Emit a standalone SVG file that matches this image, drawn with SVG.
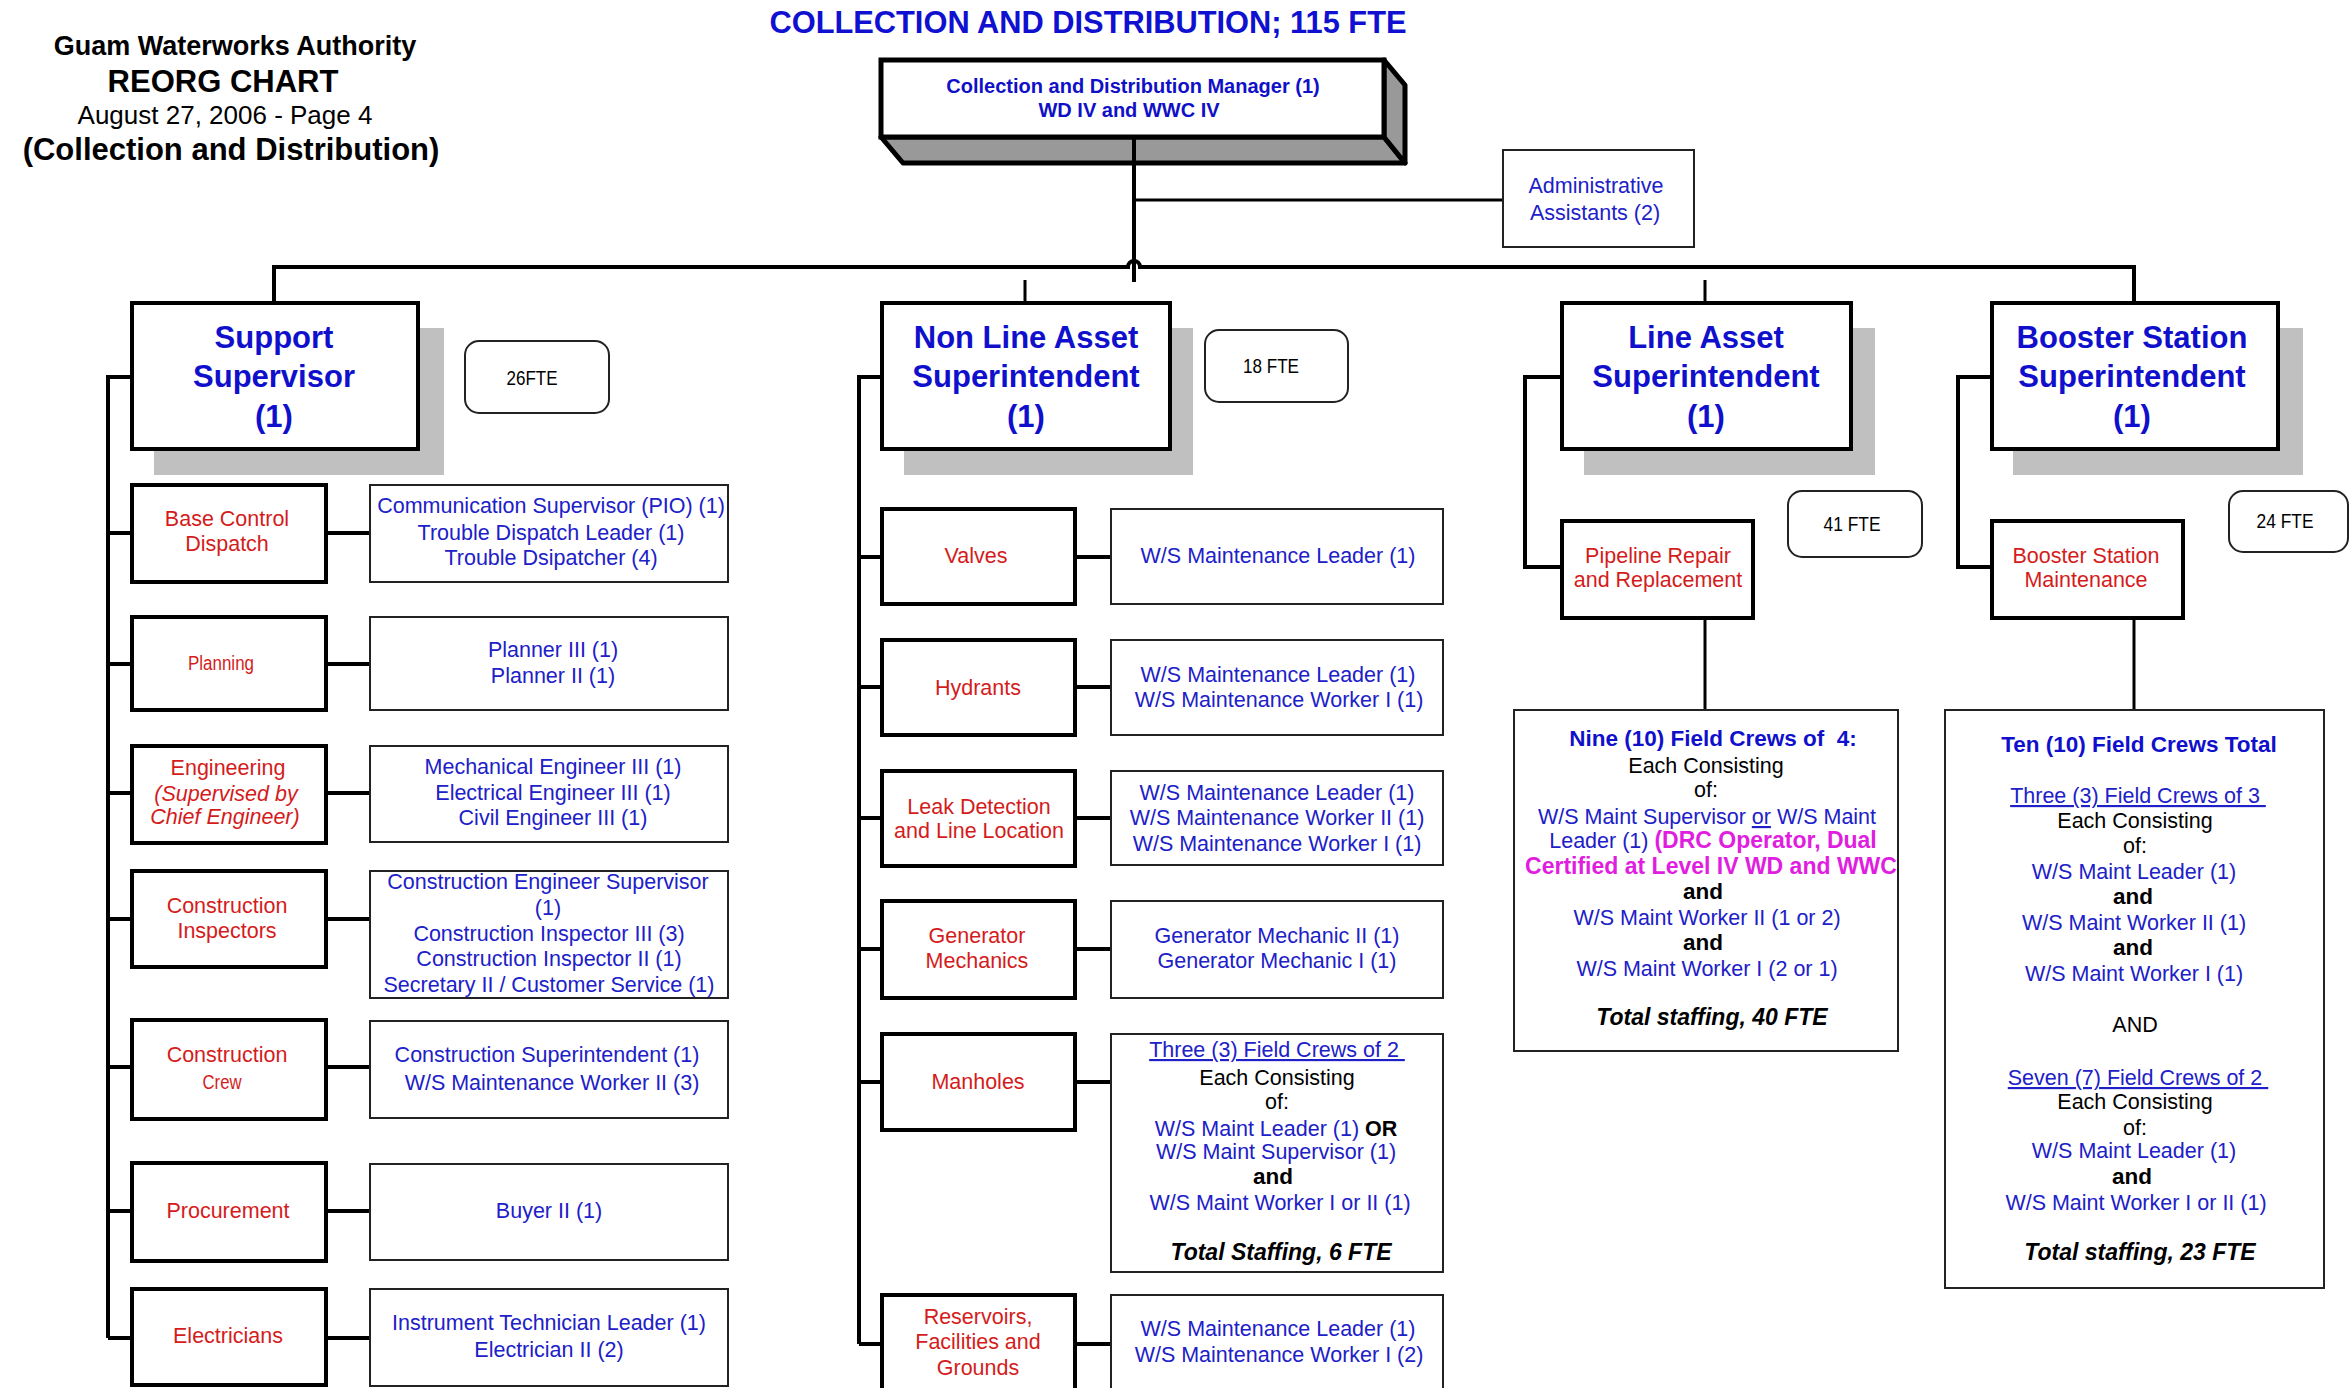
<svg xmlns="http://www.w3.org/2000/svg" width="2350" height="1388" viewBox="0 0 2350 1388">
<style>
text{font-family:"Liberation Sans",Arial,sans-serif;text-anchor:middle}
.hdr{fill:#000;font-weight:bold}
.ttl{fill:#1010d0;font-weight:bold;font-size:30.8px}
.mgr{fill:#1010c8;font-weight:bold;font-size:20px}
.sup{fill:#1010cc;font-weight:bold;font-size:31px}
.b{fill:#2020c8;font-size:21.5px}
.r{fill:#d41c1c;font-size:21.5px}
.rs{fill:#d41c1c;font-size:20.5px}
.k{fill:#000;font-size:21.5px}
.kb{fill:#000;font-size:22.5px;font-weight:bold}
.bi{fill:#000;font-size:23px;font-weight:bold;font-style:italic}
.bb{fill:#1010cc;font-size:22.5px;font-weight:bold}
.mg{fill:#e01ee0;font-size:23px;font-weight:bold}
.fte{fill:#000;font-size:20px}
.ul{text-decoration:underline}
.box4{fill:#fff;stroke:#000;stroke-width:4}
.box2{fill:#fff;stroke:#222;stroke-width:2}
.shadow{fill:#c0c0c0}
.rnd{fill:#fff;stroke:#222;stroke-width:2}
.c{fill:none;stroke:#000;stroke-width:4}
.c3{fill:none;stroke:#000;stroke-width:3}
</style>
<rect width="2350" height="1388" fill="#fff"/>

<g id="header">
<text class="hdr" x="235" y="55" font-size="27">Guam Waterworks Authority</text>
<text class="hdr" x="223" y="92" font-size="31">REORG CHART</text>
<text x="225" y="124" font-size="26" fill="#000">August 27, 2006 - Page 4</text>
<text class="hdr" x="231" y="160" font-size="31">(Collection and Distribution)</text>
<text class="ttl" x="1088" y="33">COLLECTION AND DISTRIBUTION; 115 FTE</text>
</g>

<g id="connectors">
<path class="c" d="M1134,137 V282"/>
<path class="c3" d="M1134,200 H1503"/>
<path class="c" d="M274,303 V267 H1128 a6,6 0 0 1 12,0 H2134 V303"/>
<path class="c3" d="M1025,280 V303 M1705,280 V303"/>
<path class="c" d="M132,377 H108 V1338"/>
<path class="c" d="M108,533 H132 M326,533 H370 M108,664 H132 M326,664 H370 M108,793 H132 M326,793 H370 M108,919 H132 M326,919 H370 M108,1067 H132 M326,1067 H370 M108,1211 H132 M326,1211 H370 M108,1338 H132 M326,1338 H370"/>
<path class="c" d="M882,377 H859 V1344"/>
<path class="c" d="M859,557 H882 M1075,557 H1111 M859,687 H882 M1075,687 H1111 M859,818 H882 M1075,818 H1111 M859,949 H882 M1075,949 H1111 M859,1082 H882 M1075,1082 H1111 M859,1344 H882 M1075,1344 H1111"/>
<path class="c" d="M1562,377 H1525 V567 H1562"/>
<path class="c3" d="M1705,618 V710"/>
<path class="c" d="M1992,377 H1958 V567 H1992"/>
<path class="c3" d="M2134,618 V710"/>
</g>

<g id="manager">
<polygon points="881,137 1384,137 1405,163 903,163" fill="#999" stroke="#000" stroke-width="5" stroke-linejoin="round"/>
<polygon points="1384,60 1405,85 1405,163 1384,137" fill="#999" stroke="#000" stroke-width="5" stroke-linejoin="round"/>
<rect x="881" y="60" width="503" height="77" fill="#fff" stroke="#000" stroke-width="5"/>
<text class="mgr" x="1133" y="93">Collection and Distribution Manager (1)</text>
<text class="mgr" x="1129" y="117">WD IV and WWC IV</text>
</g>
<line x1="1134" y1="137" x2="1134" y2="163" stroke="#000" stroke-width="4"/>

<g id="admin">
<rect class="box2" x="1503" y="150" width="191" height="97"/>
<text class="b" x="1596" y="193">Administrative</text>
<text class="b" x="1595" y="220">Assistants (2)</text>
</g>

<g id="support">
<rect class="shadow" x="154" y="328" width="290" height="147"/>
<rect class="box4" x="132" y="303" width="286" height="146"/>
<text class="sup" x="274" y="348">Support</text>
<text class="sup" x="274" y="387">Supervisor</text>
<text class="sup" x="274" y="427">(1)</text>
</g>
<g id="fte26"><rect class="rnd" x="465" y="341" width="144" height="72" rx="14"/><text class="fte" x="532" y="385" textLength="51" lengthAdjust="spacingAndGlyphs">26FTE</text></g>

<g id="base-control"><rect class="box4" x="132" y="485" width="194" height="97"/>
<text class="r" x="227" y="526">Base Control</text><text class="r" x="227" y="551">Dispatch</text></g>
<g id="base-control-staff"><rect class="box2" x="370" y="485" width="358" height="97"/>
<text class="b" x="551" y="513">Communication Supervisor (PIO) (1)</text>
<text class="b" x="551" y="540">Trouble Dispatch Leader (1)</text>
<text class="b" x="551" y="565">Trouble Dsipatcher (4)</text></g>

<g id="planning"><rect class="box4" x="132" y="617" width="194" height="93"/>
<text class="rs" x="221" y="670" textLength="66" lengthAdjust="spacingAndGlyphs">Planning</text></g>
<g id="planning-staff"><rect class="box2" x="370" y="617" width="358" height="93"/>
<text class="b" x="553" y="657">Planner III (1)</text>
<text class="b" x="553" y="683">Planner II (1)</text></g>

<g id="engineering"><rect class="box4" x="132" y="746" width="194" height="97"/>
<text class="r" x="228" y="775">Engineering</text>
<text class="r" x="226" y="801" font-style="italic">(Supervised by</text>
<text class="r" x="225" y="824" font-style="italic">Chief Engineer)</text></g>
<g id="engineering-staff"><rect class="box2" x="370" y="746" width="358" height="96"/>
<text class="b" x="553" y="774">Mechanical Engineer III (1)</text>
<text class="b" x="553" y="800">Electrical Engineer III (1)</text>
<text class="b" x="553" y="825">Civil Engineer III (1)</text></g>

<g id="construction-inspectors"><rect class="box4" x="132" y="871" width="194" height="96"/>
<text class="r" x="227" y="913">Construction</text><text class="r" x="227" y="938">Inspectors</text></g>
<g id="construction-inspectors-staff"><rect class="box2" x="370" y="871" width="358" height="127"/>
<text class="b" x="548" y="889">Construction Engineer Supervisor</text>
<text class="b" x="548" y="915">(1)</text>
<text class="b" x="549" y="941">Construction Inspector III (3)</text>
<text class="b" x="549" y="966">Construction Inspector II (1)</text>
<text class="b" x="549" y="992">Secretary II / Customer Service (1)</text></g>

<g id="construction-crew"><rect class="box4" x="132" y="1020" width="194" height="99"/>
<text class="r" x="227" y="1062">Construction</text><text class="rs" x="222" y="1089" textLength="39" lengthAdjust="spacingAndGlyphs">Crew</text></g>
<g id="construction-crew-staff"><rect class="box2" x="370" y="1021" width="358" height="97"/>
<text class="b" x="547" y="1062">Construction Superintendent (1)</text>
<text class="b" x="552" y="1090">W/S Maintenance Worker II (3)</text></g>

<g id="procurement"><rect class="box4" x="132" y="1163" width="194" height="98"/>
<text class="r" x="228" y="1218">Procurement</text></g>
<g id="procurement-staff"><rect class="box2" x="370" y="1164" width="358" height="96"/>
<text class="b" x="549" y="1218">Buyer II (1)</text></g>

<g id="electricians"><rect class="box4" x="132" y="1289" width="194" height="96"/>
<text class="r" x="228" y="1343">Electricians</text></g>
<g id="electricians-staff"><rect class="box2" x="370" y="1289" width="358" height="97"/>
<text class="b" x="549" y="1330">Instrument Technician Leader (1)</text>
<text class="b" x="549" y="1357">Electrician II (2)</text></g>

<g id="non-line-asset">
<rect class="shadow" x="904" y="328" width="289" height="147"/>
<rect class="box4" x="882" y="303" width="288" height="146"/>
<text class="sup" x="1026" y="348">Non Line Asset</text>
<text class="sup" x="1026" y="387">Superintendent</text>
<text class="sup" x="1026" y="427">(1)</text>
</g>
<g id="fte18"><rect class="rnd" x="1205" y="330" width="143" height="72" rx="14"/><text class="fte" x="1271" y="373" textLength="56" lengthAdjust="spacingAndGlyphs">18 FTE</text></g>

<g id="valves"><rect class="box4" x="882" y="509" width="193" height="95"/>
<text class="r" x="976" y="563">Valves</text></g>
<g id="valves-staff"><rect class="box2" x="1111" y="509" width="332" height="95"/>
<text class="b" x="1278" y="563">W/S Maintenance Leader (1)</text></g>

<g id="hydrants"><rect class="box4" x="882" y="640" width="193" height="95"/>
<text class="r" x="978" y="695">Hydrants</text></g>
<g id="hydrants-staff"><rect class="box2" x="1111" y="640" width="332" height="95"/>
<text class="b" x="1278" y="682">W/S Maintenance Leader (1)</text>
<text class="b" x="1279" y="707">W/S Maintenance Worker I (1)</text></g>

<g id="leak-detection"><rect class="box4" x="882" y="771" width="193" height="95"/>
<text class="r" x="979" y="814">Leak Detection</text><text class="r" x="979" y="838">and Line Location</text></g>
<g id="leak-detection-staff"><rect class="box2" x="1111" y="771" width="332" height="94"/>
<text class="b" x="1277" y="800">W/S Maintenance Leader (1)</text>
<text class="b" x="1277" y="825">W/S Maintenance Worker II (1)</text>
<text class="b" x="1277" y="851">W/S Maintenance Worker I (1)</text></g>

<g id="generator"><rect class="box4" x="882" y="901" width="193" height="97"/>
<text class="r" x="977" y="943">Generator</text><text class="r" x="977" y="968">Mechanics</text></g>
<g id="generator-staff"><rect class="box2" x="1111" y="901" width="332" height="97"/>
<text class="b" x="1277" y="943">Generator Mechanic II (1)</text>
<text class="b" x="1277" y="968">Generator Mechanic I (1)</text></g>

<g id="manholes"><rect class="box4" x="882" y="1034" width="193" height="96"/>
<text class="r" x="978" y="1089">Manholes</text></g>
<g id="manholes-staff"><rect class="box2" x="1111" y="1034" width="332" height="238"/>
<text class="b ul" x="1277" y="1057">Three (3) Field Crews of 2&#160;</text>
<text class="k" x="1277" y="1085">Each Consisting</text>
<text class="k" x="1277" y="1109">of:</text>
<text class="b" x="1276" y="1136">W/S Maint Leader (1) <tspan fill="#000" font-weight="bold">OR</tspan></text>
<text class="b" x="1276" y="1159">W/S Maint Supervisor (1)</text>
<text class="kb" x="1273" y="1184">and</text>
<text class="b" x="1280" y="1210">W/S Maint Worker I or II (1)</text>
<text class="bi" x="1281" y="1260">Total Staffing, 6 FTE</text></g>

<g id="reservoirs"><rect class="box4" x="882" y="1295" width="193" height="100"/>
<text class="r" x="978" y="1324">Reservoirs,</text><text class="r" x="978" y="1349">Facilities and</text><text class="r" x="978" y="1375">Grounds</text></g>
<g id="reservoirs-staff"><rect class="box2" x="1111" y="1295" width="332" height="100"/>
<text class="b" x="1278" y="1336">W/S Maintenance Leader (1)</text>
<text class="b" x="1279" y="1362">W/S Maintenance Worker I (2)</text></g>

<g id="line-asset">
<rect class="shadow" x="1584" y="328" width="291" height="147"/>
<rect class="box4" x="1562" y="303" width="289" height="146"/>
<text class="sup" x="1706" y="348">Line Asset</text>
<text class="sup" x="1706" y="387">Superintendent</text>
<text class="sup" x="1706" y="427">(1)</text>
</g>
<g id="fte41"><rect class="rnd" x="1788" y="491" width="134" height="66" rx="14"/><text class="fte" x="1852" y="531" textLength="57" lengthAdjust="spacingAndGlyphs">41 FTE</text></g>
<g id="pipeline"><rect class="box4" x="1562" y="521" width="191" height="97"/>
<text class="r" x="1658" y="563">Pipeline Repair</text><text class="r" x="1658" y="587">and Replacement</text></g>
<g id="pipeline-crews"><rect class="box2" x="1514" y="710" width="384" height="341"/>
<text class="bb" x="1713" y="746">Nine (10) Field Crews of &#160;4:</text>
<text class="k" x="1706" y="773">Each Consisting</text>
<text class="k" x="1706" y="797">of:</text>
<text class="b" x="1707" y="824">W/S Maint Supervisor <tspan class="ul">or</tspan> W/S Maint</text>
<text class="b" x="1713" y="848">Leader (1) <tspan class="mg">(DRC Operator, Dual</tspan></text>
<text class="mg" x="1711" y="874">Certified at Level IV WD and WWC</text>
<text class="kb" x="1703" y="899">and</text>
<text class="b" x="1707" y="925">W/S Maint Worker II (1 or 2)</text>
<text class="kb" x="1703" y="950">and</text>
<text class="b" x="1707" y="976">W/S Maint Worker I (2 or 1)</text>
<text class="bi" x="1712" y="1025">Total staffing, 40 FTE</text></g>

<g id="booster-station">
<rect class="shadow" x="2013" y="328" width="290" height="147"/>
<rect class="box4" x="1992" y="303" width="286" height="146"/>
<text class="sup" x="2132" y="348">Booster Station</text>
<text class="sup" x="2132" y="387">Superintendent</text>
<text class="sup" x="2132" y="427">(1)</text>
</g>
<g id="fte24"><rect class="rnd" x="2229" y="491" width="119" height="61" rx="14"/><text class="fte" x="2285" y="528" textLength="57" lengthAdjust="spacingAndGlyphs">24 FTE</text></g>
<g id="booster-maint"><rect class="box4" x="1992" y="521" width="191" height="97"/>
<text class="r" x="2086" y="563">Booster Station</text><text class="r" x="2086" y="587">Maintenance</text></g>
<g id="booster-crews"><rect class="box2" x="1945" y="710" width="379" height="578"/>
<text class="bb" x="2139" y="752">Ten (10) Field Crews Total</text>
<text class="b ul" x="2138" y="803">Three (3) Field Crews of 3&#160;</text>
<text class="k" x="2135" y="828">Each Consisting</text>
<text class="k" x="2135" y="853">of:</text>
<text class="b" x="2134" y="879">W/S Maint Leader (1)</text>
<text class="kb" x="2133" y="904">and</text>
<text class="b" x="2134" y="930">W/S Maint Worker II (1)</text>
<text class="kb" x="2133" y="955">and</text>
<text class="b" x="2134" y="981">W/S Maint Worker I (1)</text>
<text class="k" x="2135" y="1032">AND</text>
<text class="b ul" x="2138" y="1085">Seven (7) Field Crews of 2&#160;</text>
<text class="k" x="2135" y="1109">Each Consisting</text>
<text class="k" x="2135" y="1135">of:</text>
<text class="b" x="2134" y="1158">W/S Maint Leader (1)</text>
<text class="kb" x="2132" y="1184">and</text>
<text class="b" x="2136" y="1210">W/S Maint Worker I or II (1)</text>
<text class="bi" x="2140" y="1260">Total staffing, 23 FTE</text></g>
</svg>
